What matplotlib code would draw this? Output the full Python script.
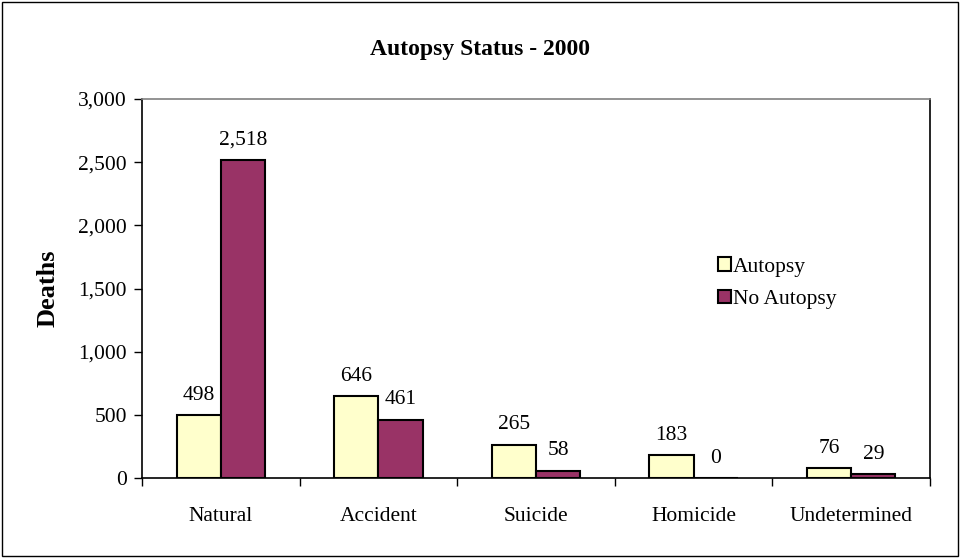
import numpy as np
import matplotlib.pyplot as plt
from matplotlib.patches import Rectangle

plt.rcParams['font.family'] = ['Liberation Serif', 'DejaVu Serif']

# datos
categorias = ["Natural", "Accident", "Suicide", "Homicide", "Undetermined"]
autopsia = [498, 646, 265, 183, 76]
sin_autopsia = [2518, 461, 58, 0, 29]
series = ["Autopsy", "No Autopsy"]

color_a = "#FFFFCC"
color_b = "#993366"
tam = 15.5

fig = plt.figure(figsize=(9.6, 5.58), dpi=100)
ax = fig.add_axes([142 / 960, 1 - 478 / 558, (930 - 142) / 960, (478 - 99) / 558])

x = np.arange(len(categorias))
ancho = 0.28
b1 = ax.bar(x - ancho / 2, autopsia, ancho, color=color_a, edgecolor="black",
            linewidth=1.5, label=series[0])
b2 = ax.bar(x + ancho / 2, sin_autopsia, ancho, color=color_b, edgecolor="black",
            linewidth=1.5, label=series[1])

# etiquetas de valores
for barras, vals in ((b1, autopsia), (b2, sin_autopsia)):
    for r, v in zip(barras, vals):
        ax.annotate(f"{v:,}", (r.get_x() + r.get_width() / 2, v),
                    xytext=(0, 11), textcoords="offset points",
                    ha="center", va="baseline", fontsize=tam)

ax.set_xlim(-0.5, len(categorias) - 0.5)
ax.set_ylim(0, 3000)
ax.set_yticks(np.arange(0, 3001, 500))
ax.set_yticklabels([f"{v:,}" for v in range(0, 3001, 500)], fontsize=tam)

# ticks en los limites de categoria
ax.set_xticks(np.arange(-0.5, len(categorias), 1.0))
ax.set_xticklabels([])
ax.set_xticks(x, minor=True)
ax.set_xticklabels(categorias, minor=True, fontsize=tam)
ax.tick_params(axis="x", which="minor", length=0, pad=21)
ax.tick_params(axis="x", which="major", length=6, direction="out", width=1)
ax.tick_params(axis="y", length=6, direction="out", width=1, pad=5)

for s in ["left", "bottom", "right"]:
    ax.spines[s].set_color("black")
    ax.spines[s].set_linewidth(1.2)
ax.spines["top"].set_color("#808080")
ax.spines["top"].set_linewidth(1.2)

ax.set_ylabel("Deaths", fontsize=19, fontweight="bold", labelpad=13)
fig.text(480 / 960, 1 - 49 / 558, "Autopsy Status - 2000", ha="center", va="center",
         fontsize=17, fontweight="bold")

ax.legend(loc="upper left", bbox_to_anchor=(0.72, 0.605), frameon=False,
          fontsize=tam, handlelength=0.6, handleheight=0.6, handletextpad=0.1,
          labelspacing=0.6, borderaxespad=0)

# borde exterior
fig.patches.append(Rectangle((0.002, 0.003), 0.996, 0.994, transform=fig.transFigure,
                             fill=False, edgecolor="black", linewidth=1))

fig.savefig("out.png", dpi=100)
